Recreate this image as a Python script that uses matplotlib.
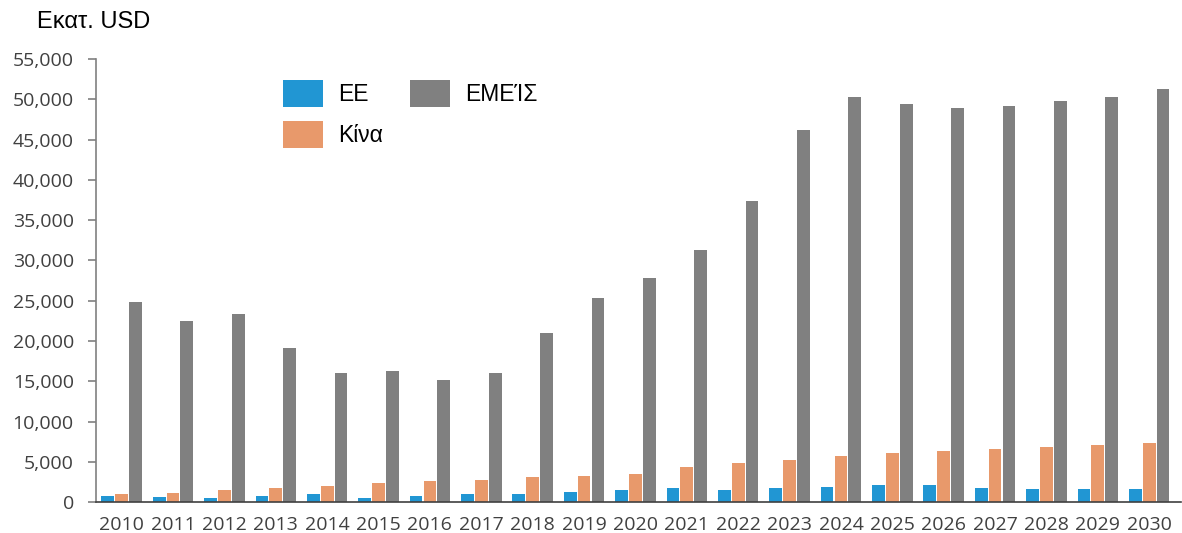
import matplotlib
matplotlib.use("Agg")
import matplotlib.pyplot as plt
import numpy as np
from matplotlib.ticker import FuncFormatter, MultipleLocator

years = [str(y) for y in range(2010, 2031)]
ee = [750, 620, 500, 750, 1000, 500, 750, 1000, 1000, 1240, 1490, 1740, 1490, 1740, 1860, 2110, 2110, 1740, 1610, 1610, 1610]
china = [1000, 1120, 1490, 1740, 1990, 2320, 2610, 2730, 3070, 3190, 3520, 4390, 4880, 5220, 5710, 6080, 6330, 6580, 6830, 7080, 7330]
usa = [24800, 22500, 23300, 19100, 16000, 16300, 15100, 16000, 21000, 25400, 27800, 31300, 37400, 46200, 50300, 49400, 48900, 49200, 49800, 50300, 51300]

c_ee = "#2196d3"
c_cn = "#e8996b"
c_us = "#808080"

fig = plt.figure(figsize=(11.82, 5.33), dpi=100)
ax = fig.add_axes([0.0812, 0.058, 0.918, 0.831])

x = np.arange(len(years))
w = 0.25
off = 0.27
b1 = ax.bar(x - off, ee, w, color=c_ee, label="ΕΕ")
b2 = ax.bar(x, china, w, color=c_cn, label="Κίνα")
b3 = ax.bar(x + off, usa, w, color=c_us, label="ΕΜΕΊΣ")

ax.set_xlim(-0.5, 20.62)
ax.set_ylim(0, 55000)
ax.yaxis.set_major_locator(MultipleLocator(5000))
ax.yaxis.set_major_formatter(FuncFormatter(lambda v, p: f"{int(v):,}"))
ax.set_xticks(x)
ax.set_xticklabels(years)

for s in ["top", "right"]:
    ax.spines[s].set_visible(False)
ax.spines["left"].set_color("#808080")
ax.spines["left"].set_linewidth(1.2)
ax.spines["bottom"].set_color("#404040")
ax.spines["bottom"].set_linewidth(1.2)

ax.tick_params(axis="x", length=0, pad=10, labelsize=14, labelcolor="#404040")
ax.tick_params(axis="y", length=6, width=1.2, color="#808080", pad=10, labelsize=14, labelcolor="#404040")
for lbl in ax.get_xticklabels() + ax.get_yticklabels():
    lbl.set_fontfamily("Open Sans")

fig.text(0.031, 0.958, "Εκατ. USD", fontsize=17, family="Liberation Sans", ha="left", va="center")

leg = ax.legend(handles=[b1, b2, b3], ncol=2, frameon=False,
                loc="upper left", bbox_to_anchor=(0.1722, 0.9526),
                borderaxespad=0, borderpad=0,
                prop={"family": "Liberation Sans", "size": 16.5},
                handlelength=1.75, handleheight=1.45, handletextpad=0.65,
                columnspacing=1.2, labelspacing=0.6)

fig.savefig("out.png", dpi=100)
